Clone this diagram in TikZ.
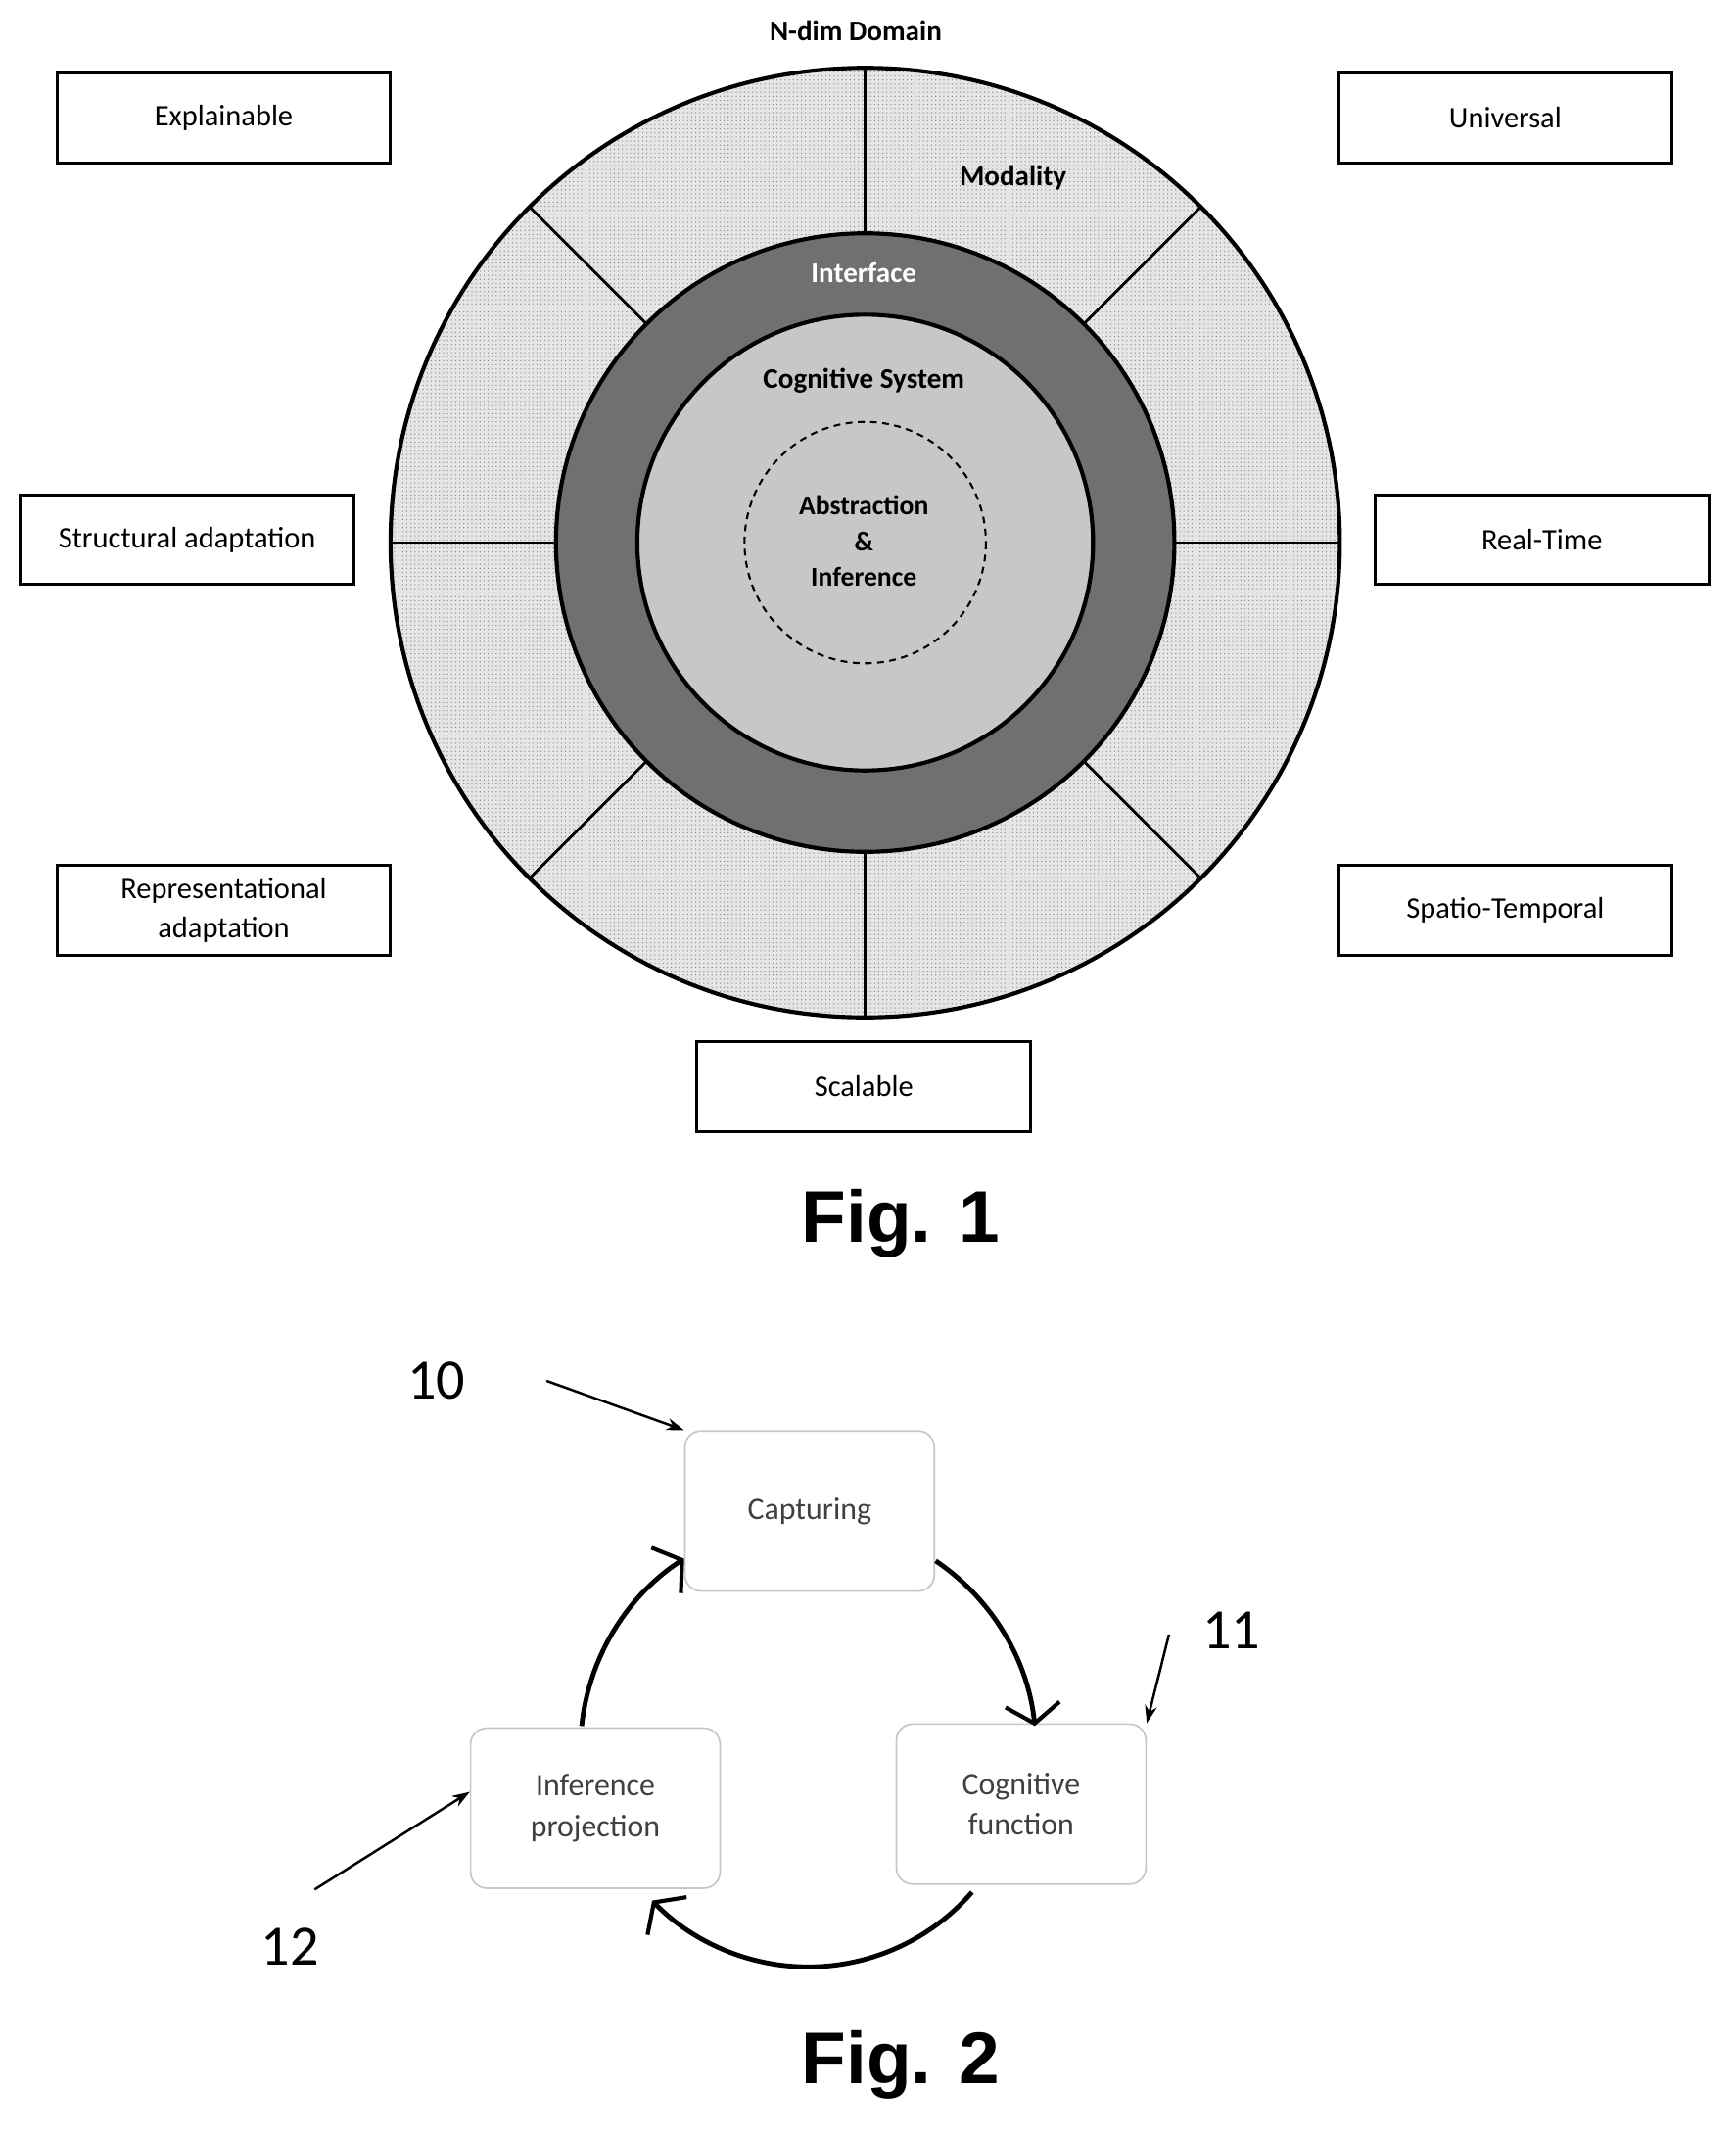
\documentclass[tikz,border=0pt]{standalone}
\usepackage{fontspec}
\setmainfont{Carlito}
\newfontfamily\figfont{Liberation Sans}
\usetikzlibrary{arrows.meta,patterns,calc}
\begin{document}
\begin{tikzpicture}[x=1pt,y=-1pt,
  box/.style={draw,line width=2.2pt,minimum width=246pt,minimum height=66pt,align=center,font=\fontsize{22}{26}\selectfont},
  rbox/.style={draw=gray!45,line width=1.2pt,rounded corners=12pt,minimum width=184pt,minimum height=118pt,align=center,font=\fontsize{23}{30}\selectfont,text=black!75},
  lbl/.style={font=\bfseries\fontsize{21}{24}\selectfont},
  num/.style={font=\fontsize{42}{44}\selectfont},
  cyc/.style={line width=3.5pt,-{Straight Barb[length=14pt,width=40pt,line width=3pt]}},
  pt/.style={line width=1.8pt,-{Stealth[length=13pt,width=9pt]}},
  fig/.style={font=\figfont\bfseries\fontsize{54}{60}\selectfont}]
\useasboundingbox (0,0) rectangle (1280,1574);
\coordinate (c) at (638,400);
\fill[black!10] (c) circle (350);
\fill[pattern=dots,pattern color=black!45] (c) circle (350);
\draw[line width=3pt] (c) circle (350);
\foreach \a in {0,45,...,315} \draw[line width=2pt] ($(c)+(\a:228)$) -- ($(c)+(\a:350)$);
\fill[black!56] (c) circle (228);
\draw[line width=3pt] (c) circle (228);
\fill[black!22] (c) circle (168);
\draw[line width=3pt] (c) circle (168);
\draw[line width=1.5pt,dash pattern=on 5pt off 4pt] (c) circle (89);
\node[lbl] (nd) at (631,23) {N-dim Domain};
\node[lbl] (mod) at (747,131) {Modality};
\node[lbl,text=white] (int) at (637,201) {Interface};
\node[lbl] (cs) at (637,281) {Cognitive System};
\node[lbl,align=center,font=\bfseries\fontsize{20}{26.5}\selectfont] (ai) at (637,399) {Abstraction\\\&\\Inference};
\node[box] (b1) at (165,87) {Explainable};
\node[box] (b2) at (1110,87) {Universal};
\node[box] (b3) at (138,398) {Structural adaptation};
\node[box] (b4) at (1137,398) {Real-Time};
\node[box,font=\fontsize{22}{29}\selectfont] (b5) at (165,671) {Representational\\adaptation};
\node[box] (b6) at (1110,671) {Spatio-Temporal};
\node[box] (b7) at (637,801) {Scalable};
\node[fig] (f1) at (664,902) {Fig. 1};
\node[rbox] (cap) at (597,1114) {Capturing};
\node[rbox] (cog) at (753,1330) {Cognitive\\function};
\node[rbox] (inf) at (439,1333) {Inference\\projection};
\coordinate (o) at (596,1290);
\draw[cyc] ($(o)+(-56:168)$) arc (-56:-6:168);
\draw[cyc] ($(o)+(41:160)$) arc (41:136:160);
\draw[cyc] ($(o)+(186:168)$) arc (186:237:168);
\node[num] (n10) at (322,1018) {10};
\node[num] (n11) at (908,1202) {11};
\node[num] (n12) at (214,1435) {12};
\coordinate (s10) at (403,1018);
\coordinate (s11) at (862,1205);
\coordinate (s12) at (232,1393);
\draw[pt] (s10) -- (cap.north west);
\draw[pt] (s11) -- (cog.north east);
\draw[pt] (s12) -- ([yshift=12pt]inf.west);
\node[fig] (f2) at (664,1522) {Fig. 2};
\end{tikzpicture}
\end{document}
